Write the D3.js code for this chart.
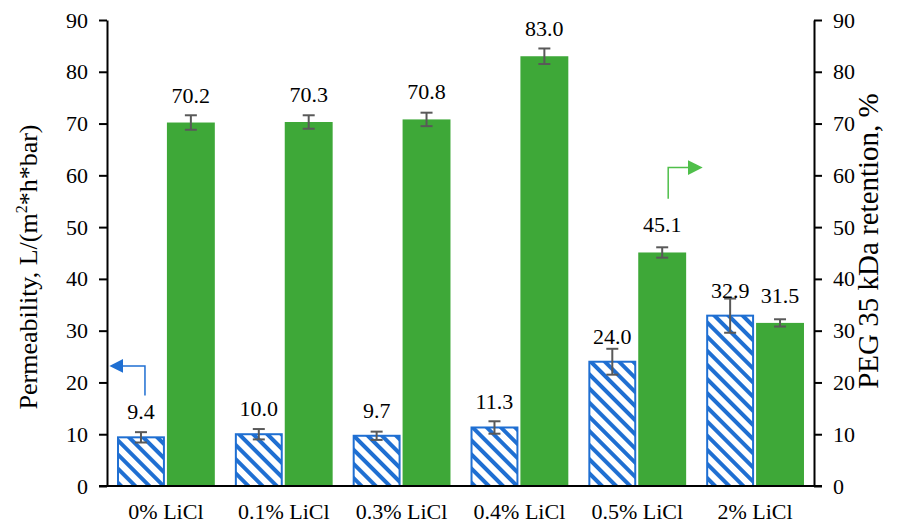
<!DOCTYPE html>
<html>
<head>
<meta charset="utf-8">
<script src="https://cdn.jsdelivr.net/npm/d3@7"></script>
<style>
  body { margin: 0; background: #fff; }
  svg text { font-family: "Liberation Serif", "Times New Roman", serif; fill: #000; }
</style>
</head>
<body>
<div id="vis"></div>
<script>
'use strict'

// chart values
const categories = ['0% LiCl', '0.1% LiCl', '0.3% LiCl', '0.4% LiCl', '0.5% LiCl', '2% LiCl']
const permeability = [9.4, 10.0, 9.7, 11.3, 24.0, 32.9]
const permeabilityErr = [1.0, 1.0, 0.8, 1.2, 2.5, 3.3]
const retention = [70.2, 70.3, 70.8, 83.0, 45.1, 31.5]
const retentionErr = [1.4, 1.3, 1.3, 1.5, 1.0, 0.7]
const yTicks = [0, 10, 20, 30, 40, 50, 60, 70, 80, 90]

function wrapper(){
  let width = 902
  let height = 526
  let left = 107, right = 814, top = 20, bottom = 486

  const blue = '#1f6fd2'
  const green = '#3ea838'
  const errColor = '#595959'

  let svg = d3.select('#vis').append('svg')
    .attr('width', width)
    .attr('height', height)

  // hatch for the permeability bars
  let defs = svg.append('defs')
  defs.append('pattern')
    .attr('id', 'hatch')
    .attr('patternUnits', 'userSpaceOnUse')
    .attr('width', 10)
    .attr('height', 10)
    .attr('patternTransform', 'rotate(-45)')
    .append('rect')
    .attr('x', 0).attr('y', 0)
    .attr('width', 4).attr('height', 10)
    .attr('fill', blue)

  defs.append('marker')
    .attr('id', 'arrBlue')
    .attr('viewBox', '0 0 10 10')
    .attr('refX', 1).attr('refY', 5)
    .attr('markerWidth', 14).attr('markerHeight', 14)
    .attr('markerUnits', 'userSpaceOnUse')
    .attr('orient', 'auto')
    .append('path').attr('d', 'M0,0 L10,5 L0,10 Z').attr('fill', blue)

  defs.append('marker')
    .attr('id', 'arrGreen')
    .attr('viewBox', '0 0 10 10')
    .attr('refX', 1).attr('refY', 5)
    .attr('markerWidth', 15).attr('markerHeight', 15)
    .attr('markerUnits', 'userSpaceOnUse')
    .attr('orient', 'auto')
    .append('path').attr('d', 'M0,0 L10,5 L0,10 Z').attr('fill', '#4fbf4a')

  let x = d3.scaleBand().domain(categories).range([left, right]).paddingInner(0.17).paddingOuter(0.085)
  let xSub = d3.scaleBand().domain(['perm', 'ret']).range([0, x.bandwidth()]).paddingInner(0.04)
  let yL = d3.scaleLinear().domain([0, 90]).range([bottom, top])
  let yR = d3.scaleLinear().domain([0, 90]).range([bottom, top])

  let rows = categories.map(function(c, i){
    return {cat: c, perm: permeability[i], permErr: permeabilityErr[i], ret: retention[i], retErr: retentionErr[i]}
  })

  // permeability bars (hatched)
  svg.append('g').selectAll('rect')
    .data(rows)
    .join('rect')
    .attr('x', d => x(d.cat) + xSub('perm') + 1)
    .attr('y', d => yL(d.perm))
    .attr('width', xSub.bandwidth() - 2)
    .attr('height', d => yL(0) - yL(d.perm))
    .attr('fill', 'url(#hatch)')
    .attr('stroke', blue)
    .attr('stroke-width', 2)

  // retention bars
  svg.append('g').selectAll('rect')
    .data(rows)
    .join('rect')
    .attr('x', d => x(d.cat) + xSub('ret'))
    .attr('y', d => yR(d.ret))
    .attr('width', xSub.bandwidth())
    .attr('height', d => yR(0) - yR(d.ret))
    .attr('fill', green)

  // error bars
  function errBars(key, errKey, scale){
    let g = svg.append('g').attr('stroke', errColor).attr('stroke-width', 2)
    rows.forEach(function(d){
      let cx = x(d.cat) + xSub(key) + xSub.bandwidth() / 2
      let y1 = scale(d[key] - d[errKey]), y2 = scale(d[key] + d[errKey])
      g.append('line').attr('x1', cx).attr('x2', cx).attr('y1', y1).attr('y2', y2)
      g.append('line').attr('x1', cx - 6).attr('x2', cx + 6).attr('y1', y1).attr('y2', y1)
      g.append('line').attr('x1', cx - 6).attr('x2', cx + 6).attr('y1', y2).attr('y2', y2)
    })
  }
  errBars('perm', 'permErr', yL)
  errBars('ret', 'retErr', yR)

  // value labels
  svg.append('g').selectAll('text')
    .data(rows)
    .join('text')
    .attr('x', d => x(d.cat) + xSub('perm') + xSub.bandwidth() / 2)
    .attr('y', d => yL(d.perm) - 18)
    .attr('text-anchor', 'middle')
    .attr('font-size', 22)
    .text(d => d.perm.toFixed(1))

  svg.append('g').selectAll('text')
    .data(rows)
    .join('text')
    .attr('x', d => x(d.cat) + xSub('ret') + xSub.bandwidth() / 2)
    .attr('y', d => yR(d.ret) - 20)
    .attr('text-anchor', 'middle')
    .attr('font-size', 22)
    .text(d => d.ret.toFixed(1))

  // axes
  let axL = svg.append('g')
    .attr('transform', 'translate(' + left + ',0)')
    .call(d3.axisLeft(yL).tickValues(yTicks).tickSize(8).tickSizeOuter(0).tickPadding(11))
  let axR = svg.append('g')
    .attr('transform', 'translate(' + right + ',0)')
    .call(d3.axisRight(yR).tickValues(yTicks).tickSize(8).tickSizeOuter(0).tickPadding(11))
  ;[axL, axR].forEach(function(a){
    a.selectAll('path, line').attr('stroke', '#000').attr('stroke-width', 2)
    a.selectAll('text').attr('font-size', 22).attr('fill', '#000')
  })

  // baseline
  svg.append('line')
    .attr('x1', left - 8).attr('x2', right + 8)
    .attr('y1', bottom).attr('y2', bottom)
    .attr('stroke', '#000').attr('stroke-width', 2)

  // category labels
  svg.append('g').selectAll('text')
    .data(categories)
    .join('text')
    .attr('x', d => x(d) + x.bandwidth() / 2)
    .attr('y', 519)
    .attr('text-anchor', 'middle')
    .attr('font-size', 22)
    .text(d => d)

  // axis titles
  let tl = svg.append('text')
    .attr('transform', 'translate(37,267) rotate(-90)')
    .attr('text-anchor', 'middle')
    .attr('font-size', 26)
  tl.append('tspan').text('Permeability, L/(m')
  tl.append('tspan').attr('font-size', 16).attr('dy', -10).text('2')
  tl.append('tspan').attr('dy', 10).text('*h*bar)')

  svg.append('text')
    .attr('transform', 'translate(878,241) rotate(-90)')
    .attr('text-anchor', 'middle')
    .attr('font-size', 29)
    .text('PEG 35 kDa retention, %')

  // arrows pointing to the matching axis
  let bx = x(categories[0]) + xSub('perm') + xSub.bandwidth() / 2 + 4
  svg.append('path')
    .attr('d', 'M' + bx + ',' + yL(17.5) + ' V' + yL(23.2) + ' H' + (left + 15))
    .attr('fill', 'none')
    .attr('stroke', blue)
    .attr('stroke-width', 1.5)
    .attr('marker-end', 'url(#arrBlue)')

  let gx = x(categories[4]) + xSub('ret') + xSub.bandwidth() / 2 + 6
  svg.append('path')
    .attr('d', 'M' + gx + ',' + yR(55.5) + ' V' + yR(61.5) + ' H' + (gx + 21))
    .attr('fill', 'none')
    .attr('stroke', '#4fbf4a')
    .attr('stroke-width', 1.5)
    .attr('marker-end', 'url(#arrGreen)')
}

wrapper()
</script>
</body>
</html>
